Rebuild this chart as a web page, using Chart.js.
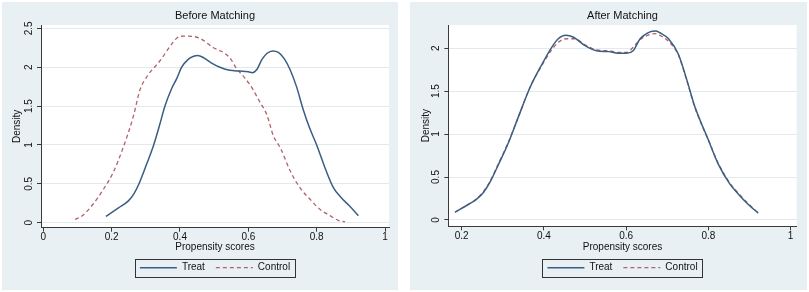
<!DOCTYPE html>
<html><head><meta charset="utf-8">
<script src="https://cdn.jsdelivr.net/npm/chart.js@4"></script>
<style>
body{margin:0;background:#fff;width:809px;height:292px;overflow:hidden;position:relative;font-family:"Liberation Sans",Arial,sans-serif}
.panel{position:absolute;background:#e8f0f3}
canvas{display:block}
</style></head><body>
<div class="panel" style="left:2px;top:2px;width:396px;height:288px"><canvas id="c1" width="396" height="288"></canvas></div>
<div class="panel" style="left:410px;top:2px;width:397px;height:288px"><canvas id="c2" width="397" height="288"></canvas></div>
<script>
// ---- data ----
const seriesNames = ["Treat", "Control"];
const panelTitles = ["Before Matching", "After Matching"];
const xTitle = "Propensity scores";
const yTitle = "Density";

const beforeTreatX = [0.183,0.220,0.249,0.265,0.280,0.303,0.323,0.340,0.356,0.375,0.390,0.405,0.424,0.440,0.452,0.470,0.490,0.517,0.546,0.576,0.600,0.612,0.625,0.640,0.655,0.672,0.688,0.705,0.722,0.741,0.761,0.780,0.800,0.824,0.849,0.870,0.895,0.922];
const beforeTreatY = [0.08,0.19,0.28,0.37,0.50,0.76,1.00,1.25,1.50,1.72,1.85,2.00,2.10,2.14,2.15,2.12,2.06,2.00,1.96,1.95,1.94,1.93,1.97,2.10,2.18,2.21,2.19,2.11,1.97,1.75,1.45,1.21,1.00,0.71,0.45,0.33,0.22,0.09];

const beforeControlX = [0.093,0.117,0.146,0.176,0.205,0.234,0.263,0.283,0.305,0.341,0.376,0.392,0.410,0.424,0.459,0.498,0.527,0.546,0.566,0.590,0.610,0.634,0.654,0.673,0.695,0.722,0.751,0.785,0.810,0.839,0.863,0.883];
const beforeControlY = [0.04,0.10,0.24,0.43,0.65,0.97,1.36,1.71,1.89,2.08,2.30,2.38,2.40,2.40,2.37,2.25,2.19,2.12,1.98,1.86,1.74,1.55,1.39,1.12,0.95,0.67,0.45,0.28,0.17,0.09,0.03,0.01];

const afterTreatX = [0.184,0.216,0.236,0.253,0.269,0.289,0.313,0.338,0.366,0.395,0.419,0.435,0.453,0.471,0.500,0.528,0.557,0.585,0.601,0.617,0.634,0.658,0.672,0.682,0.703,0.727,0.747,0.767,0.800,0.824,0.852,0.873,0.897,0.921];
const afterTreatY = [0.09,0.18,0.24,0.32,0.44,0.64,0.89,1.20,1.54,1.81,2.01,2.11,2.15,2.13,2.03,1.97,1.96,1.94,1.94,1.97,2.11,2.19,2.20,2.18,2.11,1.93,1.64,1.32,0.93,0.65,0.42,0.30,0.18,0.08];

const afterControlX = [0.184,0.216,0.236,0.253,0.269,0.289,0.313,0.338,0.366,0.395,0.419,0.435,0.455,0.475,0.500,0.528,0.557,0.585,0.601,0.617,0.634,0.658,0.670,0.682,0.703,0.727,0.747,0.767,0.800,0.824,0.852,0.873,0.897,0.921];
const afterControlY = [0.09,0.18,0.245,0.33,0.45,0.65,0.90,1.20,1.54,1.80,1.98,2.07,2.11,2.11,2.04,1.98,1.97,1.95,1.95,2.01,2.10,2.16,2.17,2.15,2.08,1.92,1.63,1.31,0.93,0.66,0.43,0.31,0.19,0.08];

const xTicksBefore = [0, 0.2, 0.4, 0.6, 0.8, 1];
const yTicksBefore = [0, 0.5, 1, 1.5, 2, 2.5];
const xTicksAfter = [0.2, 0.4, 0.6, 0.8, 1];
const yTicksAfter = [0, 0.5, 1, 1.5, 2];

// ---- drawing ----
const FONT = "'Liberation Sans', Arial, sans-serif";
const TREAT_COLOR = '#3a5d82';
const CONTROL_COLOR = '#b3616a';
const AXIS_COLOR = '#3a3a3a';

function pts(xs, ys){ return xs.map((x,i)=>({x:x, y:ys[i]})); }

const plotBg = {
  id:'plotBg',
  beforeDraw(chart){
    const a = chart.chartArea, ctx = chart.ctx;
    ctx.save(); ctx.fillStyle = '#ffffff';
    ctx.fillRect(a.left, a.top, a.right - a.left, a.bottom - a.top);
    ctx.restore();
  }
};
const legendBorder = {
  id:'legendBorder',
  afterDraw(chart){
    const hb = chart.legend && chart.legend.legendHitBoxes;
    if(!hb || !hb.length) return;
    let l = Infinity, r = -Infinity, t = Infinity, b = -Infinity;
    hb.forEach(h=>{ l=Math.min(l,h.left); r=Math.max(r,h.left+h.width); t=Math.min(t,h.top); b=Math.max(b,h.top+h.height); });
    const ctx = chart.ctx;
    ctx.save(); ctx.strokeStyle = '#333'; ctx.lineWidth = 1; ctx.setLineDash([]);
    ctx.fillStyle = 'rgba(255,255,255,0)';
    ctx.strokeRect(Math.round(l-5)+0.5, Math.round(t-4)+0.5, Math.round(r-l+10), Math.round(b-t+8));
    ctx.restore();
  }
};

function makeChart(id, cfg){
  const ds = [
    {label: seriesNames[0], data: pts(cfg.tx, cfg.ty), borderColor: TREAT_COLOR, borderWidth: 1.5,
     showLine: true, pointRadius: 0, cubicInterpolationMode: 'monotone', fill: false},
    {label: seriesNames[1], data: pts(cfg.cx, cfg.cy), borderColor: CONTROL_COLOR, borderWidth: 1.3,
     borderDash: [4,3], showLine: true, pointRadius: 0, cubicInterpolationMode: 'monotone', fill: false}
  ];
  return new Chart(document.getElementById(id), {
    type: 'scatter',
    data: {datasets: ds},
    plugins: [plotBg, legendBorder],
    options: {
      responsive: false, animation: false, devicePixelRatio: 1,
      layout: {padding: {left: 0, right: cfg.padRight, top: 0, bottom: cfg.padBottom}},
      plugins: {
        tooltip: {enabled: false},
        title: {display: true, text: cfg.title, fullSize: false, color: '#111',
          font: {family: FONT, size: 11, weight: 'normal'}, padding: {top: 7.8, bottom: 2.0}},
        legend: {display: true, position: 'bottom', fullSize: false,
          labels: {usePointStyle: true, pointStyle: 'line', pointStyleWidth: 37, boxHeight: 10,
            padding: 11, color: '#111', font: {family: FONT, size: 10},
            generateLabels(chart){
              const items = Chart.defaults.plugins.legend.labels.generateLabels(chart);
              items.forEach(it=>{ const d = chart.data.datasets[it.datasetIndex];
                it.lineDash = d.borderDash || []; it.lineWidth = d.borderWidth; it.strokeStyle = d.borderColor; it.pointStyle = 'line'; });
              return items;
            }}}
      },
      scales: {
        x: {type: 'linear', min: cfg.xmin, max: cfg.xmax,
          afterBuildTicks: s => { s.ticks = cfg.xt.map(v=>({value:v})); },
          afterFit: s => { s.height = cfg.xAxisH; },
          grid: {drawOnChartArea: false, drawTicks: true, tickLength: 4, tickColor: AXIS_COLOR, color: AXIS_COLOR},
          border: {display: true, color: AXIS_COLOR, width: 1},
          ticks: {padding: 0, color: '#111', font: {family: FONT, size: 10}, maxRotation: 0, autoSkip: false,
            callback: v => String(v)},
          title: {display: true, text: xTitle, color: '#111', font: {family: FONT, size: 10}, padding: {top: 0, bottom: -2}}
        },
        y: {type: 'linear', min: cfg.ymin, max: cfg.ymax,
          afterBuildTicks: s => { s.ticks = cfg.yt.map(v=>({value:v})); },
          afterFit: s => { s.width = cfg.yAxisW; },
          grid: {drawOnChartArea: true, drawTicks: true, tickLength: 4, tickColor: AXIS_COLOR, color: '#e2eaed', lineWidth: 1},
          border: {display: true, color: AXIS_COLOR, width: 1},
          ticks: {padding: 1, color: '#111', font: {family: FONT, size: 10}, minRotation: 90, maxRotation: 90,
            crossAlign: 'center', autoSkip: false, callback: v => String(v)},
          title: {display: true, text: yTitle, color: '#111', font: {family: FONT, size: 10}, padding: {top: cfg.yTitlePad, bottom: 0}}
        }
      }
    }
  });
}

makeChart('c1', {title: panelTitles[0], tx: beforeTreatX, ty: beforeTreatY, cx: beforeControlX, cy: beforeControlY,
  xt: xTicksBefore, yt: yTicksBefore, xmin: -0.0068, xmax: 1.0117, ymin: -0.065, ymax: 2.543,
  padRight: 9, padBottom: 7.3, xAxisH: 24, yAxisW: 39, yTitlePad: 9.5});
makeChart('c2', {title: panelTitles[1], tx: afterTreatX, ty: afterTreatY, cx: afterControlX, cy: afterControlY,
  xt: xTicksAfter, yt: yTicksAfter, xmin: 0.1676, xmax: 1.0147, ymin: -0.074, ymax: 2.27,
  padRight: 10.3, padBottom: 7.3, xAxisH: 25.4, yAxisW: 38.3, yTitlePad: 9.8});
</script>
</body></html>
